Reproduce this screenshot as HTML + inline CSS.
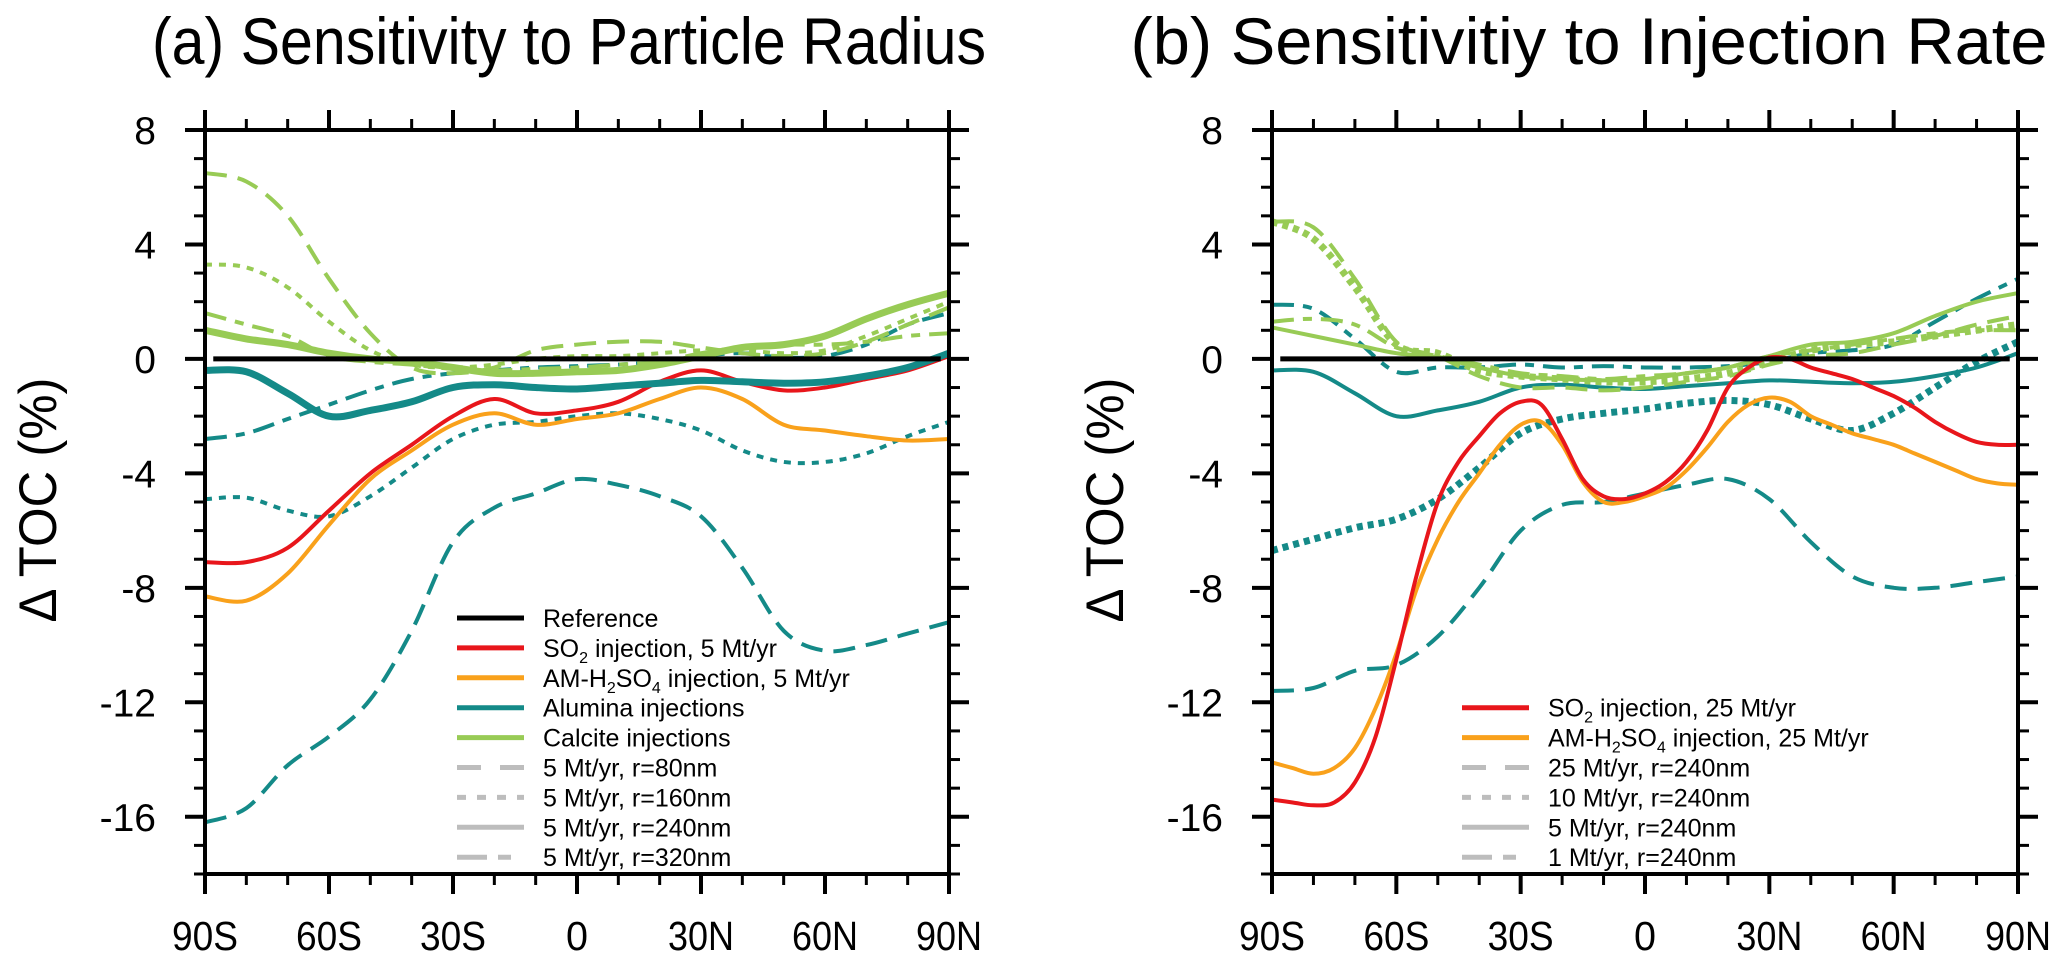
<!DOCTYPE html>
<html><head><meta charset="utf-8"><style>
html,body{margin:0;padding:0;background:#fff;}
svg{display:block;font-family:"Liberation Sans",Arial,sans-serif;}
</style></head><body>
<svg id="fig" width="2067" height="969" viewBox="0 0 2067 969">
<text x="569" y="64" font-size="66" text-anchor="middle" textLength="834" lengthAdjust="spacingAndGlyphs">(a) Sensitivity to Particle Radius</text>
<text x="1589" y="64" font-size="66" text-anchor="middle" textLength="917" lengthAdjust="spacingAndGlyphs">(b) Sensitivitiy to Injection Rate</text>
<text transform="translate(56,500) rotate(-90)" font-size="53" text-anchor="middle" textLength="245" lengthAdjust="spacingAndGlyphs">Δ TOC (%)</text>
<text transform="translate(1123,500) rotate(-90)" font-size="53" text-anchor="middle" textLength="245" lengthAdjust="spacingAndGlyphs">Δ TOC (%)</text>
<g id="pa"></g>
<g id="pb"></g>
</svg>
<script>
const lats = [-90,-80,-70,-60,-50,-40,-30,-20,-10,0,10,20,30,40,50,60,70,80,90];
const xTickLabels = ["90S","60S","30S","0","30N","60N","90N"];
const yTickValues = [8,4,0,-4,-8,-12,-16];

// Panel a series
const a_so2 = [-7.1,-7.1,-6.6,-5.3,-4.0,-3.0,-2.0,-1.4,-1.9,-1.8,-1.5,-0.8,-0.4,-0.8,-1.1,-1.0,-0.7,-0.4,0.1];
const a_am = [-8.3,-8.45,-7.5,-5.8,-4.2,-3.2,-2.3,-1.9,-2.3,-2.1,-1.9,-1.4,-1.0,-1.4,-2.3,-2.5,-2.7,-2.85,-2.8];
const a_al240 = [-0.4,-0.45,-1.2,-2.0,-1.8,-1.5,-1.0,-0.9,-1.0,-1.05,-0.95,-0.85,-0.75,-0.8,-0.85,-0.8,-0.6,-0.3,0.2];
const a_al80 = [-16.2,-15.7,-14.2,-13.2,-11.9,-9.5,-6.4,-5.2,-4.7,-4.2,-4.4,-4.8,-5.5,-7.3,-9.5,-10.2,-10.0,-9.6,-9.2];
const a_al160 = [-4.9,-4.85,-5.3,-5.5,-4.8,-3.8,-2.8,-2.3,-2.2,-2.0,-1.9,-2.1,-2.5,-3.2,-3.6,-3.6,-3.3,-2.7,-2.2];
const a_al320 = [-2.8,-2.6,-2.1,-1.6,-1.1,-0.7,-0.5,-0.4,-0.3,-0.25,-0.2,-0.1,0.1,0.2,0.05,0.1,0.5,1.2,1.6];
const a_ca80 = [6.5,6.2,5.0,2.8,0.9,-0.3,-0.5,-0.3,0.3,0.5,0.6,0.6,0.4,0.2,0.1,0.2,0.6,1.2,1.8];
const a_ca160 = [3.3,3.2,2.5,1.3,0.3,-0.2,-0.3,-0.2,0.0,0.1,0.1,0.2,0.3,0.3,0.2,0.3,0.8,1.4,2.0];
const a_ca240 = [1.0,0.7,0.5,0.2,0.0,-0.1,-0.3,-0.5,-0.5,-0.45,-0.4,-0.2,0.1,0.4,0.5,0.8,1.4,1.9,2.3];
const a_ca320 = [1.6,1.2,0.8,0.1,-0.1,-0.2,-0.35,-0.4,-0.35,-0.3,-0.2,-0.1,0.2,0.4,0.5,0.5,0.6,0.8,0.9];

// Panel b series
const latsFine = [-90,-85,-80,-75,-70,-65,-60,-55,-50,-45,-40,-35,-30,-25,-20,-15,-10,-5,0,5,10,15,20,25,30,35,40,45,50,55,60,65,70,75,80,85,90];
const b_so2 = [-15.4,-15.5,-15.6,-15.5,-14.8,-13.2,-10.5,-7.5,-5.0,-3.6,-2.7,-1.9,-1.5,-1.6,-2.8,-4.2,-4.8,-4.9,-4.7,-4.3,-3.6,-2.5,-1.0,-0.3,0.05,0.0,-0.3,-0.5,-0.7,-1.0,-1.3,-1.7,-2.2,-2.6,-2.9,-3.0,-3.0];
const b_am = [-14.1,-14.3,-14.5,-14.3,-13.6,-12.2,-10.3,-8.0,-6.3,-5.0,-4.0,-3.0,-2.3,-2.2,-3.0,-4.3,-5.0,-5.0,-4.8,-4.5,-3.9,-3.1,-2.2,-1.6,-1.35,-1.5,-2.0,-2.3,-2.6,-2.8,-3.0,-3.3,-3.6,-3.9,-4.2,-4.35,-4.4];
const b_al5 = [-0.4,-0.45,-1.2,-2.0,-1.8,-1.5,-1.0,-0.9,-1.0,-1.05,-0.95,-0.85,-0.75,-0.8,-0.85,-0.8,-0.6,-0.3,0.2];
const b_al25 = [-11.6,-11.5,-10.9,-10.7,-9.7,-8.0,-6.0,-5.1,-5.0,-4.7,-4.4,-4.2,-4.9,-6.4,-7.6,-8.0,-8.0,-7.8,-7.6];
const b_al10 = [-6.7,-6.3,-5.9,-5.6,-4.9,-3.8,-2.6,-2.1,-1.9,-1.75,-1.55,-1.45,-1.6,-2.1,-2.5,-1.9,-1.0,-0.1,0.6];
const b_al1 = [1.9,1.75,0.7,-0.45,-0.3,-0.3,-0.2,-0.3,-0.25,-0.3,-0.3,-0.25,-0.1,0.2,0.3,0.5,1.3,2.1,2.8];
const b_ca5 = [1.1,0.8,0.5,0.2,0.05,-0.3,-0.6,-0.7,-0.75,-0.7,-0.5,-0.3,0.1,0.5,0.6,0.9,1.5,2.0,2.3];
const b_ca25 = [4.8,4.6,2.8,0.6,0.1,-0.6,-1.0,-1.0,-1.1,-1.0,-0.8,-0.6,-0.2,0.1,0.2,0.5,0.8,1.2,1.5];
const b_ca10 = [4.8,4.2,2.5,0.5,0.2,-0.4,-0.6,-0.7,-0.8,-0.8,-0.7,-0.5,-0.1,0.3,0.5,0.6,0.8,1.0,1.2];
const b_ca1 = [1.3,1.4,1.2,0.4,0.1,-0.2,-0.5,-0.6,-0.7,-0.6,-0.5,-0.3,0.1,0.3,0.5,0.7,0.9,1.0,1.0];

const NS = "http://www.w3.org/2000/svg";
const RED="#e8161b", ORA="#f9a11b", TEAL="#148a88", GRN="#98cb55", GRY="#bdbdbd";
const DASH="22 11", DOT="7 7", DDOT="22 9 9 9";
const Y0=130, Y1=874;
function yS(v){ return Y0 + (8 - v) * (Y1 - Y0) / 26; }
function mk(tag, attrs, parent){ const e=document.createElementNS(NS,tag); for(const k in attrs) e.setAttribute(k, attrs[k]); parent.appendChild(e); return e; }
function smoothPath(pts){
  let d = "M"+pts[0][0].toFixed(1)+","+pts[0][1].toFixed(1);
  for(let i=0;i<pts.length-1;i++){
    const p0=pts[Math.max(0,i-1)], p1=pts[i], p2=pts[i+1], p3=pts[Math.min(pts.length-1,i+2)];
    const c1=[p1[0]+(p2[0]-p0[0])/6, p1[1]+(p2[1]-p0[1])/6];
    const c2=[p2[0]-(p3[0]-p1[0])/6, p2[1]-(p3[1]-p1[1])/6];
    d += " C"+c1[0].toFixed(1)+","+c1[1].toFixed(1)+" "+c2[0].toFixed(1)+","+c2[1].toFixed(1)+" "+p2[0].toFixed(1)+","+p2[1].toFixed(1);
  }
  return d;
}
function panel(g, X0, X1, series, legend, legX){
  const xS = lat => X0 + (lat + 90) * (X1 - X0) / 180;
  series.forEach(s => {
    const pts = s.x.map((l,i)=>[xS(l), yS(s.y[i])]);
    const p = mk("path", {d: smoothPath(pts), fill:"none", stroke:s.c, "stroke-width":s.w, "stroke-linejoin":"round"}, g);
    if (s.dash) p.setAttribute("stroke-dasharray", s.dash);
    
    
  });
  const ref = mk("line", {x1:xS(-88), x2:xS(88), y1:yS(0), y2:yS(0), stroke:"#000", "stroke-width":5}, g);
  
  
  const fr = mk("rect", {x:X0, y:Y0, width:X1-X0, height:Y1-Y0, fill:"none", stroke:"#000", "stroke-width":4}, g);
  
  
  for (let l=-90; l<=90; l+=10){
    const maj = l % 30 === 0, len = maj ? 20 : 11, x = xS(l);
    mk("line", {x1:x, x2:x, y1:Y1, y2:Y1+len, stroke:"#000", "stroke-width":maj?4:3}, g);
    mk("line", {x1:x, x2:x, y1:Y0, y2:Y0-len, stroke:"#000", "stroke-width":maj?4:3}, g);
  }
  xTickLabels.forEach((t,i)=>{
    const tx = mk("text", {x:xS(-90+30*i), y:950, "font-size":41, "text-anchor":"middle"}, g);
    tx.textContent = t;
    tx.setAttribute("textLength", t.length===1 ? 22 : 66);
    tx.setAttribute("lengthAdjust", "spacingAndGlyphs");
    
    
  });
  for (let v=-18; v<=8; v+=1){
    const maj = v % 4 === 0, len = maj ? 20 : 11, y = yS(v);
    mk("line", {x1:X0-len, x2:X0, y1:y, y2:y, stroke:"#000", "stroke-width":maj?4:3}, g);
    mk("line", {x1:X1, x2:X1+len, y1:y, y2:y, stroke:"#000", "stroke-width":maj?4:3}, g);
  }
  yTickValues.forEach(v=>{
    const tx = mk("text", {x:X0-49, y:yS(v)+14, "font-size":39, "text-anchor":"end"}, g);
    tx.textContent = String(v);
    
    
  });
  legend.forEach(e=>{
    const y = e.y;
    const ln = mk("line", {x1:legX, x2:legX+67, y1:y, y2:y, stroke:e.c, "stroke-width":5}, g);
    if (e.dash) ln.setAttribute("stroke-dasharray", e.dash);
    
    
    const tx = mk("text", {x:legX+86, y:y+9, "font-size":25}, g);
    tx.innerHTML = e.t;
    
    
  });
}
const R = i => 618 + i*29.9;
const sub = s => '<tspan font-size="16" dy="6">'+s+'</tspan><tspan dy="-6">';
panel(document.getElementById("pa"), 205, 949, [
  {x:lats, y:a_al80, c:TEAL, w:4, dash:DASH, name:"alumina-80nm"},
  {x:lats, y:a_al160, c:TEAL, w:4, dash:DOT, name:"alumina-160nm"},
  {x:lats, y:a_al320, c:TEAL, w:4, dash:DDOT, name:"alumina-320nm"},
  {x:lats, y:a_ca80, c:GRN, w:4, dash:DASH, name:"calcite-80nm"},
  {x:lats, y:a_ca160, c:GRN, w:4, dash:DOT, name:"calcite-160nm"},
  {x:lats, y:a_ca320, c:GRN, w:4, dash:DDOT, name:"calcite-320nm"},
  {x:lats, y:a_ca240, c:GRN, w:7, dash:null, name:"calcite-240nm"},
  {x:lats, y:a_am, c:ORA, w:4, dash:null, name:"am-h2so4-5mt"},
  {x:lats, y:a_so2, c:RED, w:4, dash:null, name:"so2-5mt"},
  {x:lats, y:a_al240, c:TEAL, w:7, dash:null, name:"alumina-240nm"}
], [
  {y:R(0), c:"#000", t:"Reference"},
  {y:R(1), c:RED, t:"SO"+sub("2")+" injection, 5 Mt/yr</tspan>"},
  {y:R(2), c:ORA, t:"AM-H"+sub("2")+"SO</tspan>"+sub("4")+" injection, 5 Mt/yr</tspan>"},
  {y:R(3), c:TEAL, t:"Alumina injections"},
  {y:R(4), c:GRN, t:"Calcite injections"},
  {y:R(5), c:GRY, dash:"24 19", t:"5 Mt/yr, r=80nm"},
  {y:R(6), c:GRY, dash:"9 11", t:"5 Mt/yr, r=160nm"},
  {y:R(7), c:GRY, t:"5 Mt/yr, r=240nm"},
  {y:R(8), c:GRY, dash:"30 11 13 13", t:"5 Mt/yr, r=320nm"}
], 457);
panel(document.getElementById("pb"), 1272, 2018, [
  {x:lats, y:b_al25, c:TEAL, w:4, dash:DASH, name:"alumina-25mt"},
  {x:lats, y:b_al1, c:TEAL, w:4, dash:DDOT, name:"alumina-1mt"},
  {x:lats, y:b_al5, c:TEAL, w:4, dash:null, name:"alumina-5mt"},
  {x:lats, y:b_ca25, c:GRN, w:4, dash:DASH, name:"calcite-25mt"},
  {x:lats, y:b_ca1, c:GRN, w:4, dash:DDOT, name:"calcite-1mt"},
  {x:lats, y:b_ca5, c:GRN, w:4, dash:null, name:"calcite-5mt"},
  {x:lats, y:b_ca10, c:GRN, w:7, dash:"6 5", name:"calcite-10mt"},
  {x:lats, y:b_al10, c:TEAL, w:7, dash:"6 5", name:"alumina-10mt"},
  {x:latsFine, y:b_am, c:ORA, w:4, dash:null, name:"am-h2so4-25mt"},
  {x:latsFine, y:b_so2, c:RED, w:4, dash:null, name:"so2-25mt"}
], [
  {y:R(3), c:RED, t:"SO"+sub("2")+" injection, 25 Mt/yr</tspan>"},
  {y:R(4), c:ORA, t:"AM-H"+sub("2")+"SO</tspan>"+sub("4")+" injection, 25 Mt/yr</tspan>"},
  {y:R(5), c:GRY, dash:"24 19", t:"25 Mt/yr, r=240nm"},
  {y:R(6), c:GRY, dash:"9 11", t:"10 Mt/yr, r=240nm"},
  {y:R(7), c:GRY, t:"5 Mt/yr, r=240nm"},
  {y:R(8), c:GRY, dash:"30 11 13 13", t:"1 Mt/yr, r=240nm"}
], 1462);
</script>
</body></html>
